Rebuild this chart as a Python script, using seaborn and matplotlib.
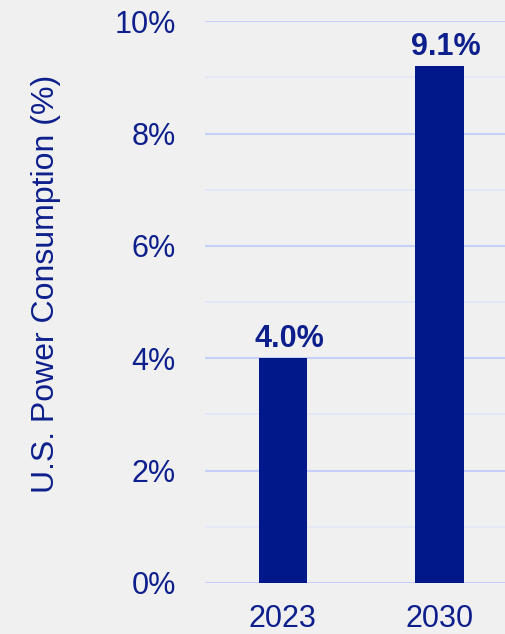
import matplotlib
matplotlib.use("Agg")
import matplotlib.pyplot as plt
from matplotlib.ticker import MultipleLocator, FuncFormatter
import seaborn as sns
import pandas as pd

# data
years = ["2023", "2030"]
share = [4.0, 9.2]
value_labels = ["4.0%", "9.1%"]

navy = "#00188a"
text_col = "#0d1f8c"
bg = "#f0f0f0"

sns.set_style("white")
plt.rcParams['font.family'] = ['Liberation Sans', 'DejaVu Sans']

df = pd.DataFrame({"year": years, "share": share})

fig = plt.figure(figsize=(5.05, 6.34), dpi=100, facecolor=bg)
ax = fig.add_axes([205 / 505, 51 / 634, 300 / 505, 561.7 / 634])
ax.set_facecolor(bg)

sns.barplot(data=df, x="year", y="share", color=navy, width=0.31,
            saturation=1, linewidth=0, ax=ax, zorder=3)

# value labels
for i, (v, lab) in enumerate(zip(share, value_labels)):
    ax.annotate(lab, (i, v), xytext=(4.5, 8), textcoords="offset points",
                ha="center", va="baseline", fontsize=22, fontweight="bold",
                color=text_col)

ax.set_ylim(0, 10)
ax.set_xlim(-0.497, 1.42)
ax.yaxis.set_major_locator(MultipleLocator(2))
ax.yaxis.set_minor_locator(MultipleLocator(1))
ax.yaxis.set_major_formatter(FuncFormatter(lambda y, p: f"{y:.0f}%"))

ax.grid(axis="y", which="major", color="#c6cefa", linewidth=1.5, zorder=0)
ax.grid(axis="y", which="minor", color="#e2e6f8", linewidth=1.2, zorder=0)
ax.grid(axis="x", visible=False)

for s in ax.spines.values():
    s.set_visible(False)

ax.tick_params(axis="y", which="both", length=0, pad=21, labelsize=22, labelcolor=text_col)
ax.tick_params(axis="x", length=0, pad=15, labelsize=22, labelcolor=text_col)

ax.set_xlabel("")
ax.set_ylabel("U.S. Power Consumption (%)", fontsize=23, color=text_col)
ax.yaxis.set_label_coords(-0.48, 0.532)

fig.savefig("out.png", dpi=100, facecolor=bg)
